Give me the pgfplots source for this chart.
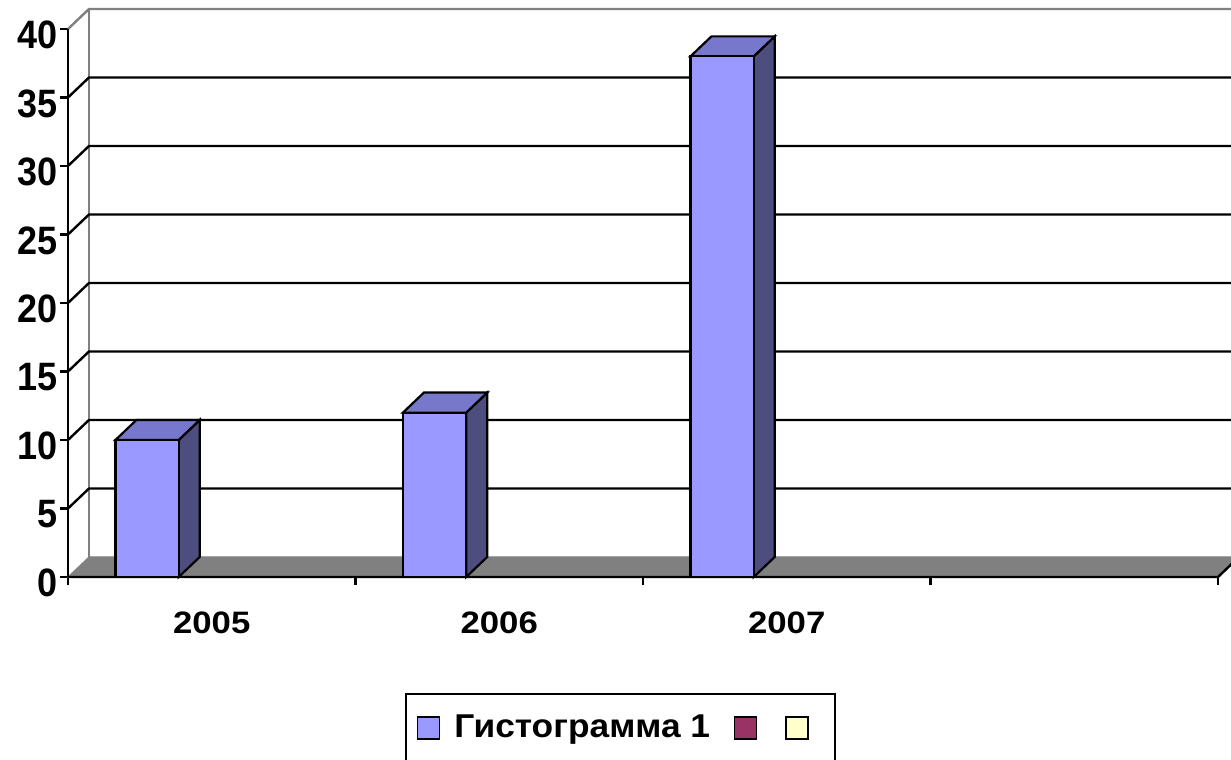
\documentclass[border=0pt]{standalone}
\usepackage{pgfplots}
\pgfplotsset{compat=1.18}
\usepackage{fontspec}
\setmainfont{Liberation Sans}
\definecolor{barfront}{RGB}{153,153,255}
\definecolor{barside}{RGB}{77,77,128}
\definecolor{bartop}{RGB}{119,119,204}
\definecolor{floorgray}{RGB}{128,128,128}
\definecolor{maroonc}{RGB}{153,51,102}
\definecolor{ltyellow}{RGB}{255,255,204}
\begin{document}
\begin{tikzpicture}
\useasboundingbox[fill=white] (-34pt,-91.5pt) rectangle (581.5pt,288.5pt);
\begin{axis}[
  at={(0,0)}, anchor=south west,
  x=143.75pt, y=6.85pt,
  xmin=0, xmax=4.045, ymin=0, ymax=41.5,
  clip=false,
  axis line style={draw=none},
  tick pos=left,
  tick align=outside,
  major tick length=4pt,
  tick style={black, line width=1.2pt},
  /pgf/number format/assume math mode=true,
  ytick={0,5,...,40},
  yticklabel={\scalebox{1}[1.1]{\pgfmathprintnumber{\tick}}},
  xtick={0,1,2,3,4},
  xticklabels={\scalebox{1.12}[1]{2005},\scalebox{1.12}[1]{2006},\scalebox{1.12}[1]{2007},{}},
  x tick label as interval,
  yticklabel style={font=\bfseries\fontsize{18}{20}\selectfont, yshift=-3pt, xshift=2.5pt},
  xticklabel style={font=\bfseries\fontsize{15.5}{18}\selectfont, yshift=-10pt},
  legend style={at={(axis description cs:0.2898,-0.204)}, anchor=north west,
    draw=black, line width=1pt, legend columns=-1,
    font=\bfseries\fontsize{16.5}{20}\selectfont,
    inner xsep=5.5pt, inner ysep=8.5pt,
    /tikz/every even column/.append style={column sep=10pt}},
  legend image code/.code={\draw[#1, draw=black, line width=0.7pt] (0pt,-5.5pt) rectangle (11pt,5.5pt);},
]
% back wall edges
\addplot[draw=floorgray, line width=1.2pt, forget plot] coordinates {(0,40) (0.073,41.46) (4.2,41.46)};
\addplot[draw=floorgray, line width=1.2pt, forget plot] coordinates {(0.073,1.46) (0.073,41.46)};
% gridlines
\addplot[black, line width=1.2pt, forget plot] coordinates {(0,5) (0.073,6.46) (4.2,6.46)};
\addplot[black, line width=1.2pt, forget plot] coordinates {(0,10) (0.073,11.46) (4.2,11.46)};
\addplot[black, line width=1.2pt, forget plot] coordinates {(0,15) (0.073,16.46) (4.2,16.46)};
\addplot[black, line width=1.2pt, forget plot] coordinates {(0,20) (0.073,21.46) (4.2,21.46)};
\addplot[black, line width=1.2pt, forget plot] coordinates {(0,25) (0.073,26.46) (4.2,26.46)};
\addplot[black, line width=1.2pt, forget plot] coordinates {(0,30) (0.073,31.46) (4.2,31.46)};
\addplot[black, line width=1.2pt, forget plot] coordinates {(0,35) (0.073,36.46) (4.2,36.46)};
% floor
\addplot[fill=floorgray, draw=floorgray, line width=0.5pt, forget plot] coordinates {(0,0) (4,0) (4.073,1.46) (4.2,1.46) (0.073,1.46)} -- cycle;
\addplot[black, line width=1.2pt, forget plot] coordinates {(0,0) (4,0) (4.073,1.46)};
% y axis
\addplot[black, line width=1.2pt, forget plot] coordinates {(0,0) (0,40)};
% bars 2005
\addplot[fill=barside, draw=black, line width=1.1pt, forget plot] coordinates {(0.385,0) (0.458,1.46) (0.458,11.46) (0.385,10)} -- cycle;
\addplot[fill=bartop, draw=black, line width=1.1pt, forget plot] coordinates {(0.165,10) (0.238,11.46) (0.458,11.46) (0.385,10)} -- cycle;
\addplot[fill=barfront, draw=black, line width=1.1pt, forget plot] coordinates {(0.165,0) (0.385,0) (0.385,10) (0.165,10)} -- cycle;
% 2006
\addplot[fill=barside, draw=black, line width=1.1pt, forget plot] coordinates {(1.385,0) (1.458,1.46) (1.458,13.46) (1.385,12)} -- cycle;
\addplot[fill=bartop, draw=black, line width=1.1pt, forget plot] coordinates {(1.165,12) (1.238,13.46) (1.458,13.46) (1.385,12)} -- cycle;
\addplot[fill=barfront, draw=black, line width=1.1pt, forget plot] coordinates {(1.165,0) (1.385,0) (1.385,12) (1.165,12)} -- cycle;
% 2007
\addplot[fill=barside, draw=black, line width=1.1pt, forget plot] coordinates {(2.385,0) (2.458,1.46) (2.458,39.46) (2.385,38)} -- cycle;
\addplot[fill=bartop, draw=black, line width=1.1pt, forget plot] coordinates {(2.165,38) (2.238,39.46) (2.458,39.46) (2.385,38)} -- cycle;
\addplot[fill=barfront, draw=black, line width=1.1pt, forget plot] coordinates {(2.165,0) (2.385,0) (2.385,38) (2.165,38)} -- cycle;
% legend
\addlegendimage{fill=barfront}
\addlegendentry{\hspace{5pt}\scalebox{1.07}[1]{Гистограмма 1}}
\addlegendimage{fill=maroonc}
\addlegendentry{}
\addlegendimage{fill=ltyellow}
\addlegendentry{\rule{3.5pt}{0pt}}
\end{axis}
\end{tikzpicture}
\end{document}
